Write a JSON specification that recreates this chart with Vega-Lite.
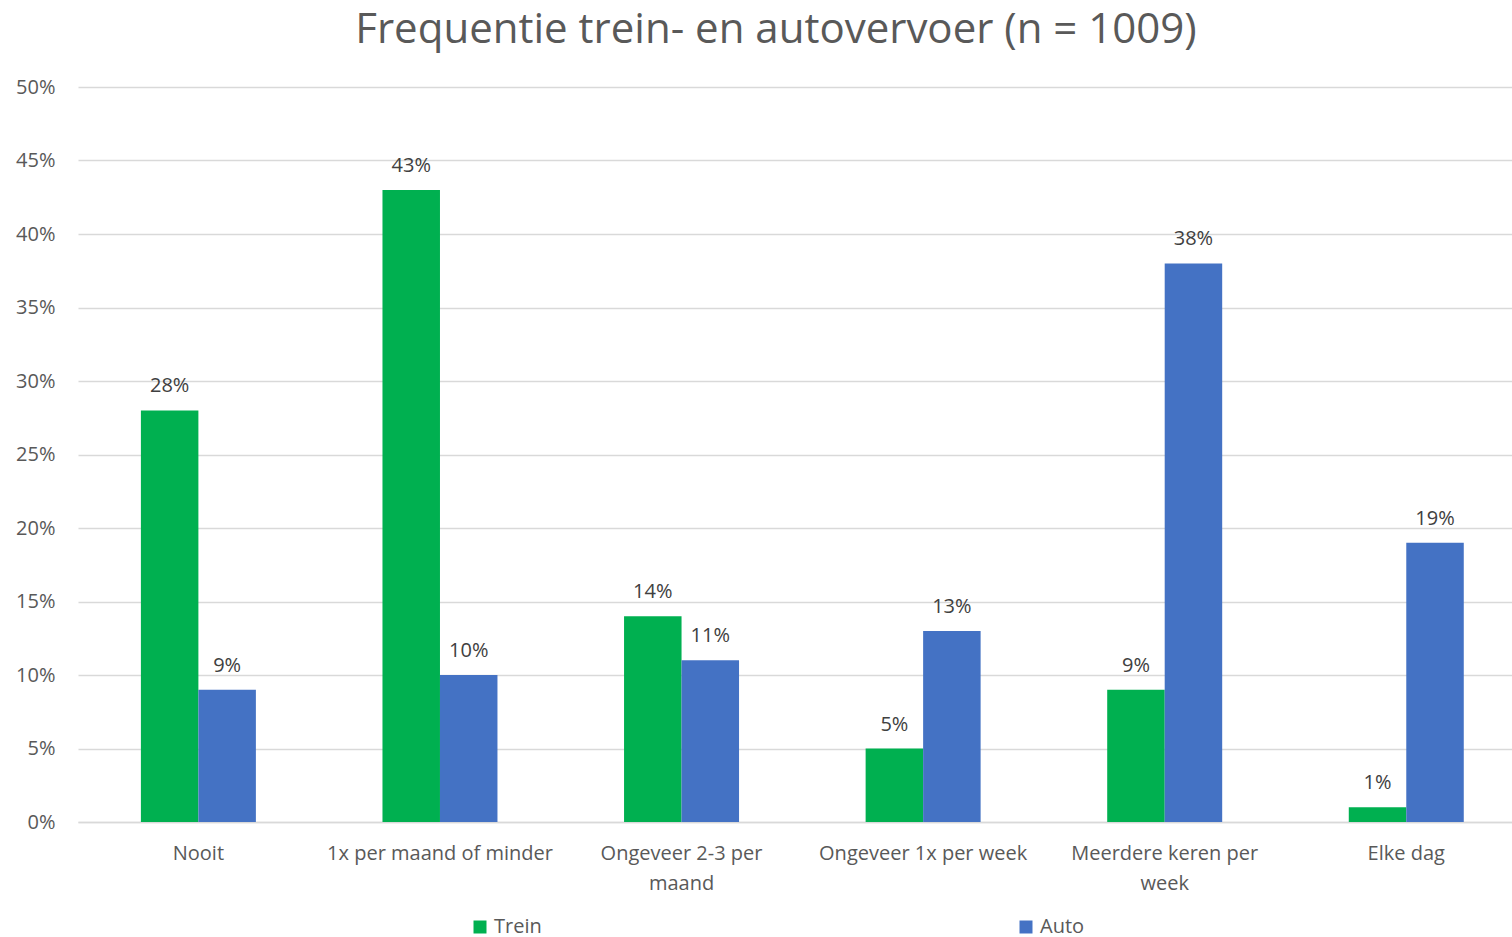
{
  "$schema": "https://vega.github.io/schema/vega-lite/v6.json",
  "width": 1434,
  "height": 735,
  "autosize": {"type": "none"},
  "padding": {"left": 78, "top": 87, "right": 0, "bottom": 115},
  "background": "white",
  "config": {
    "font": "Open Sans",
    "view": {"stroke": null}
  },
  "title": {
    "text": "Frequentie trein- en autovervoer (n = 1009)",
    "fontSize": 42,
    "fontWeight": "normal",
    "color": "#595959",
    "anchor": "middle",
    "dx": -19,
    "baseline": "alphabetic",
    "offset": -8
  },
  "data": {
    "values": [
      {"cat": "Nooit", "serie": "Trein", "val": 0.28},
      {"cat": "Nooit", "serie": "Auto", "val": 0.09},
      {"cat": "1x per maand of minder", "serie": "Trein", "val": 0.43},
      {"cat": "1x per maand of minder", "serie": "Auto", "val": 0.10},
      {"cat": "Ongeveer 2-3 per maand", "serie": "Trein", "val": 0.14},
      {"cat": "Ongeveer 2-3 per maand", "serie": "Auto", "val": 0.11},
      {"cat": "Ongeveer 1x per week", "serie": "Trein", "val": 0.05},
      {"cat": "Ongeveer 1x per week", "serie": "Auto", "val": 0.13},
      {"cat": "Meerdere keren per week", "serie": "Trein", "val": 0.09},
      {"cat": "Meerdere keren per week", "serie": "Auto", "val": 0.38},
      {"cat": "Elke dag", "serie": "Trein", "val": 0.01},
      {"cat": "Elke dag", "serie": "Auto", "val": 0.19}
    ]
  },
  "encoding": {
    "x": {
      "field": "cat",
      "type": "nominal",
      "sort": null,
      "title": null,
      "scale": {"paddingInner": 0.524, "paddingOuter": 0.23, "align": 0.566},
      "axis": {
        "labelAngle": 0,
        "labelFontSize": 20,
        "labelColor": "#595959",
        "labelPadding": 21,
        "labelLineHeight": 30,
        "labelBaseline": "top",
        "labelLimit": 400,
        "ticks": false,
        "domainColor": "#d9d9d9",
        "domainWidth": 1.5,
        "labelExpr": "datum.label == 'Ongeveer 2-3 per maand' ? ['Ongeveer 2-3 per', 'maand'] : datum.label == 'Meerdere keren per week' ? ['Meerdere keren per', 'week'] : datum.label"
      }
    },
    "xOffset": {"field": "serie", "type": "nominal", "sort": ["Trein", "Auto"]},
    "y": {
      "field": "val",
      "type": "quantitative",
      "title": null,
      "scale": {"domain": [0, 0.5], "nice": false},
      "axis": {
        "values": [0, 0.05, 0.1, 0.15, 0.2, 0.25, 0.3, 0.35, 0.4, 0.45, 0.5],
        "format": ".0%",
        "labelFontSize": 20,
        "labelColor": "#595959",
        "labelPadding": 23,
        "ticks": false,
        "domain": false,
        "gridColor": "#d9d9d9",
        "gridWidth": 1.5
      }
    }
  },
  "layer": [
    {
      "mark": {"type": "bar"},
      "encoding": {
        "color": {
          "field": "serie",
          "type": "nominal",
          "sort": ["Trein", "Auto"],
          "scale": {"domain": ["Trein", "Auto"], "range": ["#00b050", "#4472c4"]},
          "legend": {
            "title": null,
            "orient": "none",
            "legendX": 392,
            "legendY": 830,
            "direction": "horizontal",
            "columns": 2,
            "columnPadding": 474,
            "symbolType": "square",
            "symbolSize": 169,
            "symbolStrokeWidth": 0,
            "labelFontSize": 20,
            "labelColor": "#595959",
            "labelOffset": 4
          }
        }
      }
    },
    {
      "mark": {"type": "text", "baseline": "alphabetic", "dy": -18, "fontSize": 20, "color": "#404040"},
      "encoding": {
        "text": {"field": "val", "type": "quantitative", "format": ".0%"},
        "detail": {"field": "serie"}
      }
    }
  ]
}
